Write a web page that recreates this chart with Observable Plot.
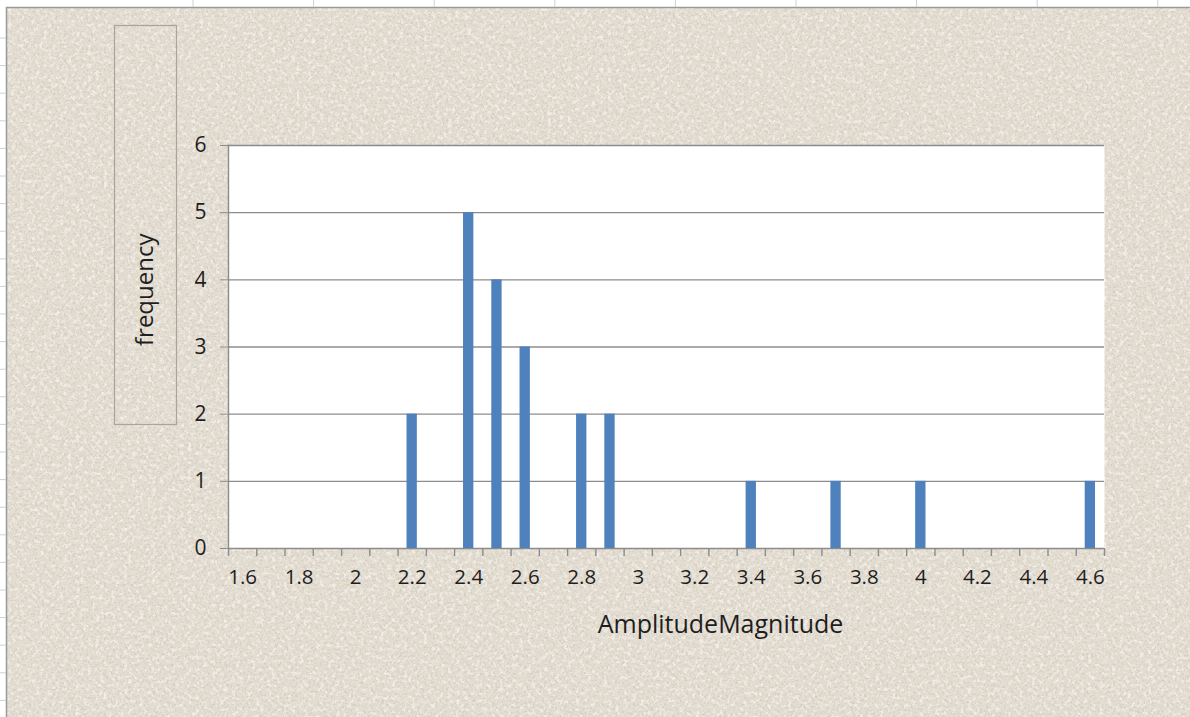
<!DOCTYPE html>
<html>
<head>
<meta charset="utf-8">
<script src="https://cdn.jsdelivr.net/npm/d3@7"></script>
<script src="https://cdn.jsdelivr.net/npm/@observablehq/plot@0.6"></script>
<style>
  html, body { margin: 0; padding: 0; background: #ffffff; }
  #chart { width: 1190px; height: 717px; position: relative; }
</style>
</head>
<body>
<div id="chart"></div>
<script>
// ---- data ----
const categories = ["1.6","1.7","1.8","1.9","2","2.1","2.2","2.3","2.4","2.5","2.6","2.7","2.8","2.9","3","3.1","3.2","3.3","3.4","3.5","3.6","3.7","3.8","3.9","4","4.1","4.2","4.3","4.4","4.5","4.6"];
const frequency  = [0,0,0,0,0,0,2,0,5,4,3,0,2,2,0,0,0,0,1,0,0,1,0,0,1,0,0,0,0,0,1];
const yTicks = [0,1,2,3,4,5,6];
const xTickLabels = categories.filter((d, i) => i % 2 === 0);
const xTitle = "AmplitudeMagnitude";
const yTitle = "frequency";

const data = categories.map((c, i) => ({category: c, frequency: frequency[i]}));

// ---- layout ----
const W = 1190, H = 717;
const ml = 228, mr = 86, mt = 145, mb = 169;
const step = (W - ml - mr) / categories.length;
const gridColor = "#8c8c8c";
const textColor = "#1e1e1e";

const chart = Plot.plot({
  width: W, height: H,
  marginLeft: ml, marginRight: mr, marginTop: mt, marginBottom: mb,
  style: {background: "transparent", fontFamily: "'Open Sans', sans-serif", fontSize: "20px", color: textColor, overflow: "visible"},
  x: {type: "band", domain: categories, paddingInner: 0.635, paddingOuter: 0.3175, align: 0.5, round: false, label: null},
  y: {domain: [0, 6], label: null},
  marks: [
    Plot.frame({fill: "white", stroke: null}),
    Plot.gridY(yTicks, {stroke: gridColor, strokeOpacity: 1, strokeWidth: 1.4}),
    Plot.barY(data, {x: "category", y: "frequency", fill: "#4f81bd"}),
    Plot.frame({anchor: "left", stroke: gridColor, strokeWidth: 1.4}),
    Plot.axisY(yTicks, {tickSize: 8, tickPadding: 14, tickFormat: "d", stroke: gridColor, fill: textColor, fontSize: 21}),
    Plot.axisX(xTickLabels, {tickSize: 0, tickPadding: 21, fill: textColor, fontSize: 20.5}),
    Plot.ruleX(categories, {x: d => d, y1: 0, y2: 0, insetTop: 8, dx: -step / 2, stroke: gridColor, strokeWidth: 1.4}),
    Plot.ruleX([categories[categories.length - 1]], {x: d => d, y1: 0, y2: 0, insetTop: 8, dx: step / 2, stroke: gridColor, strokeWidth: 1.4}),
    Plot.text([xTitle], {frameAnchor: "bottom", lineAnchor: "middle", dx: 54, dy: 76, fontSize: 25, fill: textColor}),
    Plot.text([yTitle], {frameAnchor: "left", lineAnchor: "middle", rotate: -90, dx: -83, dy: -1, fontSize: 24, fill: textColor})
  ]
});

document.getElementById("chart").appendChild(chart);

// ---- background decoration (paper texture, sheet edges, title box) ----
const svg = d3.select(chart);
const defs = svg.insert("defs", ":first-child");
const fDark = defs.append("filter").attr("id", "paperDark").attr("x", 0).attr("y", 0).attr("width", "100%").attr("height", "100%");
fDark.append("feTurbulence").attr("type", "fractalNoise").attr("baseFrequency", 0.45).attr("numOctaves", 4).attr("seed", 7).attr("result", "n");
fDark.append("feColorMatrix").attr("in", "n").attr("type", "matrix")
  .attr("values", "0 0 0 0 0.55  0 0 0 0 0.51  0 0 0 0 0.45  6 0 0 0 -3.1");
const fLight = defs.append("filter").attr("id", "paperLight").attr("x", 0).attr("y", 0).attr("width", "100%").attr("height", "100%");
fLight.append("feTurbulence").attr("type", "fractalNoise").attr("baseFrequency", 0.25).attr("numOctaves", 3).attr("seed", 21).attr("result", "n");
fLight.append("feColorMatrix").attr("in", "n").attr("type", "matrix")
  .attr("values", "0 0 0 0 0.97  0 0 0 0 0.95  0 0 0 0 0.92  4 0 0 0 -1.9");

const bg = svg.insert("g", "defs + *");
bg.append("rect").attr("x", 6).attr("y", 7).attr("width", W - 6).attr("height", H - 7).attr("fill", "#e3dcd0");
bg.append("rect").attr("x", 6).attr("y", 7).attr("width", W - 6).attr("height", H - 7).attr("filter", "url(#paperLight)").attr("opacity", 0.6);
bg.append("rect").attr("x", 6).attr("y", 7).attr("width", W - 6).attr("height", H - 7).attr("filter", "url(#paperDark)").attr("opacity", 0.4);
bg.append("line").attr("x1", 6).attr("x2", W).attr("y1", 7.5).attr("y2", 7.5).attr("stroke", "#9a9a9a").attr("stroke-width", 1.5);
bg.append("line").attr("x1", 6.5).attr("x2", 6.5).attr("y1", 7).attr("y2", H).attr("stroke", "#9a9a9a").attr("stroke-width", 1.5);
for (let x = 193; x < W; x += 120.6) {
  bg.append("line").attr("x1", x).attr("x2", x).attr("y1", 0).attr("y2", 7).attr("stroke", "#d0d0d0");
}
for (let y = 38; y < H; y += 27.6) {
  bg.append("line").attr("x1", 0).attr("x2", 6).attr("y1", y).attr("y2", y).attr("stroke", "#d0d0d0");
}
bg.append("rect").attr("x", 114.5).attr("y", 25.5).attr("width", 62).attr("height", 399)
  .attr("fill", "none").attr("stroke", "#aaa59c").attr("stroke-width", 1.2);
</script>
</body>
</html>
